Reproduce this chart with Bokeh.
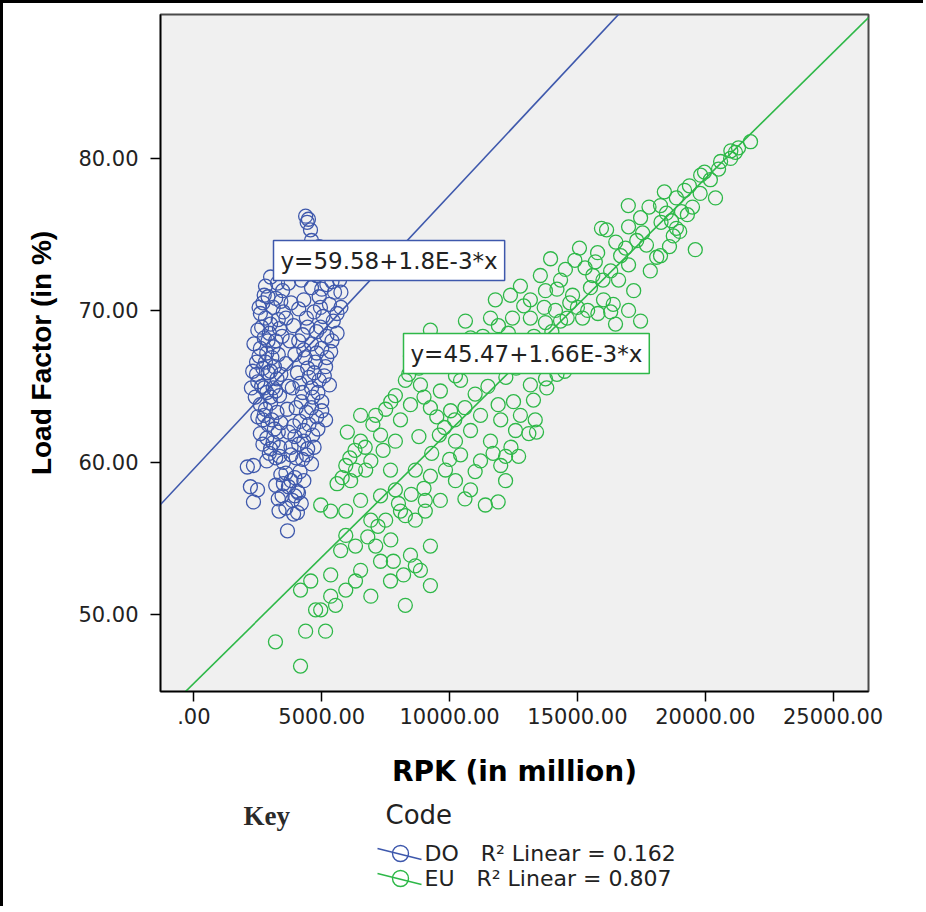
from bokeh.plotting import figure
from bokeh.layouts import column
from bokeh.models import Range1d, Label, FixedTicker
from bokeh.embed import file_html
from bokeh.resources import INLINE

# ---------------- data ----------------
do_x = [4370, 4480, 4430, 4560, 4600, 4150, 4500, 3800, 5100,
        3000, 3270, 3470, 2800,
        2700, 2900, 3100, 3400, 2600, 2800, 3000, 3300, 3500, 2500, 2750, 2950, 3200, 3450,
        2600, 2850, 3050, 3300, 2450, 2700, 2900, 3150, 3400, 2500, 2650, 2850, 3100, 3350,
        2400, 2600, 2800, 3000, 3250, 2700, 2900, 3150, 3400, 2600, 2850, 3100, 3350, 2950,
        3200, 3500, 2250, 2300, 2350,
        4900, 5300, 5600, 5100, 5450, 4800, 5700, 5200, 4600, 5500, 4900, 4300, 5300, 5750,
        4100, 4700, 5050, 5450, 3900, 4450, 4800, 5200, 5600, 4100, 4600, 5000, 5350, 3950,
        4350, 4750, 5150, 4050, 4500, 4900, 5300, 3850, 4250, 4650, 5000, 4000, 4400, 4800,
        5150, 3900, 4300, 4650, 4100, 4450, 3800, 4250, 4600,
        3600, 3950, 4300, 3700, 4050, 3450, 3850, 4200, 3600, 3900, 3330, 3660, 3200, 4090, 4050,
        2090, 2330, 2210, 2490, 2330,
        2550, 2750, 3200, 2650, 2900, 3100, 3350, 2550, 2800, 3000, 3250, 2450, 2750, 3000,
        3200, 2500, 2750, 3050, 3300, 2700, 3000, 3350, 2850,
        4200, 4550, 5000, 5400, 5750, 4400, 4950, 5600, 4250, 4950, 5400, 4300, 4800, 5200,
        4450, 4700, 5100, 4150, 4600, 4850, 4200, 4600, 5000, 4150, 4500, 4850, 3950, 4300,
        4700, 4000, 4400, 3800, 3700, 3650, 3700, 3600, 3750, 3600, 3800, 3700,
        3400, 3800, 4150, 3500, 3950, 3300]
do_y = [76.2, 76.0, 75.8, 75.3, 74.6, 73.8, 73.2, 73.0, 73.6,
        72.2, 71.8, 71.3, 71.6,
        70.5, 70.9, 70.2, 70.6, 69.8, 69.5, 69.1, 69.4, 69.9, 68.7, 68.2, 68.5, 68.0, 68.3,
        67.5, 67.2, 66.9, 67.1, 66.6, 66.2, 65.9, 66.3, 65.8, 65.3, 65.0, 64.6, 64.9, 64.4,
        64.3, 63.8, 63.5, 63.9, 63.3, 62.8, 62.5, 62.2, 62.6, 61.9, 61.6, 61.3, 61.0, 60.6,
        60.3, 60.0, 64.9, 66.0, 67.8,
        74.2, 73.8, 73.3, 72.9, 72.5, 72.3, 72.0, 71.7, 71.5, 71.2, 70.9, 70.7, 70.4, 70.2,
        70.1, 69.9, 69.6, 69.3, 69.0, 68.9, 68.6, 68.3, 68.5, 68.0, 67.8, 67.5, 67.3, 67.1,
        66.9, 66.6, 66.3, 65.9, 65.6, 65.4, 65.1, 64.9, 64.6, 64.3, 64.0, 63.6, 63.3, 63.0,
        62.8, 62.4, 62.1, 61.8, 61.2, 60.9, 60.5, 60.2, 59.9,
        59.3, 59.0, 58.8, 58.4, 58.1, 57.8, 57.5, 57.3, 57.0, 56.6, 56.8, 55.5, 58.5, 58.0, 56.7,
        59.7, 59.8, 58.4, 58.2, 57.4,
        70.2, 71.0, 70.8, 68.9, 68.0, 67.6, 68.8, 67.0, 66.6, 66.0, 65.5, 65.8, 64.9, 64.3,
        64.7, 63.0, 63.1, 62.8, 62.0, 61.2, 60.9, 60.4, 60.1,
        72.0, 72.8, 71.4, 71.9, 71.2, 69.5, 70.2, 69.8, 68.4, 68.9, 68.0, 67.4, 67.2, 66.9,
        66.2, 65.9, 65.7, 65.2, 64.9, 64.6, 64.0, 63.6, 63.4, 62.7, 62.5, 62.2, 61.7, 61.4,
        61.0, 60.3, 60.5, 61.0, 62.0, 63.5, 65.0, 66.5, 68.0, 69.5, 70.5, 71.8,
        59.2, 58.8, 59.4, 58.6, 57.8, 57.6]

eu_x = [21770, 21300, 21180, 20990, 20520, 19970, 19820, 20400, 19380, 19190, 18870, 19500,
        19070, 18480, 18680, 18250, 16990, 18270, 18870, 18750, 17470, 17550, 17320, 16880,
        16140, 15940, 15790, 16690, 16300, 16610, 17200, 16020, 15510, 15080, 14530, 14340,
        14810, 13950, 13550, 13750, 12770, 12380, 11790, 13160, 14140, 14340, 13750, 13160,
        12460, 11910, 11600, 10620, 10820, 12000, 12770, 13550, 12190, 11210, 11600, 10820,
        10230, 9250, 8470, 8270, 8860, 9640, 10430, 7880, 8470, 9250, 10040, 11210, 12000,
        12770, 13350, 12580, 11600, 10820, 10230, 11210, 12000, 12190, 10430, 9840, 9250,
        8660, 10230, 10820, 11400, 12190, 9640, 9050, 9050, 8660, 8270, 9250, 8470, 8660,
        8860, 9250, 8270, 7690, 7300, 7110, 6920, 6520, 5940, 4960, 5350, 6320, 5940, 6130,
        6720, 6920, 6520, 7300, 7110, 6520, 7880, 8080, 7690, 7880, 7300, 8080, 5940, 6320,
        5740, 5350, 6320, 6920, 6520, 5940, 5350, 4960, 5540, 4570, 4170, 4760, 5150, 4370,
        3190, 4170,
        13280, 13160, 13750, 14500, 16300, 17470, 16490, 15400, 17850, 18250, 19610,
        6000, 6300, 6700, 7000, 7500, 7700, 7400, 5800, 6100, 5600,
        8400, 8800, 9000, 9500, 9800, 8800, 9300, 9600, 10200, 10600, 10000, 9000, 8500,
        8000, 7500, 7200, 7700, 7800, 8200, 6800,
        11000, 11500, 12200, 12600, 13000, 11800, 12300, 13300, 14000, 14600, 15000, 13700,
        12900, 11300, 10300, 9800, 10100, 12500, 11900, 13800, 14200, 14800, 13100, 12400,
        11700, 11000, 10600, 11900, 12700, 13400,
        15300, 15700, 16000, 16500, 17000, 17700, 18100, 18600, 19000, 19300, 17800, 18400,
        19800, 20200, 20600, 21000, 17000, 15600, 14900, 14200, 14700,
        15200, 15800, 16400, 17000]
eu_y = [81.1, 80.7, 80.4, 80.0, 79.3, 79.1, 78.9, 77.4, 78.2, 77.9, 77.4, 76.8,
        76.5, 76.4, 75.9, 76.9, 76.9, 75.8, 75.4, 74.9, 76.1, 75.1, 74.6, 74.1,
        75.3, 75.4, 73.8, 73.6, 72.6, 72.0, 71.3, 70.7, 71.5, 74.1, 72.7, 72.0,
        71.0, 73.4, 72.3, 71.3, 71.6, 71.0, 70.7, 70.7, 70.0, 69.3, 69.2, 69.5,
        69.5, 69.0, 69.5, 69.3, 68.2, 68.0, 67.7, 67.4, 67.4, 67.0, 66.4, 66.4,
        65.7, 68.7, 67.0, 65.4, 65.1, 64.7, 65.4, 64.4, 63.8, 63.6, 63.4, 63.1, 62.8,
        63.1, 62.8, 62.1, 61.4, 62.1, 61.4, 60.1, 59.8, 60.4, 60.5, 59.5, 59.1,
        59.5, 58.8, 58.2, 57.2, 58.8, 57.5, 57.5, 56.8, 56.2, 56.5, 54.5, 53.9, 53.2,
        52.9, 51.9, 50.6, 52.2, 53.5, 54.5, 56.2, 57.5, 56.8, 57.2, 56.8, 59.5, 59.8, 58.8,
        59.5, 60.1, 61.4, 61.8, 63.1, 63.1, 61.4, 62.8, 59.5, 58.2, 57.8, 56.8, 55.2, 54.5,
        54.2, 52.6, 52.2, 51.2, 52.9, 51.6, 51.2, 50.3, 50.6, 52.2, 51.6, 50.3, 48.9, 48.9,
        48.2, 46.6,
        64.1, 65.1, 65.5, 66.0, 69.9, 69.3, 69.1, 70.0, 72.6, 73.6, 74.0,
        62.0, 60.8, 61.0, 62.5, 63.5, 64.0, 60.8, 59.0, 60.3, 58.6,
        65.8, 66.2, 64.3, 63.0, 62.3, 61.7, 60.6, 61.8, 62.8, 63.6, 60.2, 58.3, 57.9,
        57.3, 56.2, 55.8, 54.9, 53.5, 52.6, 55.1,
        64.5, 65.0, 65.6, 66.2, 66.8, 67.7, 68.5, 68.3, 68.6, 69.5, 70.2, 70.2,
        70.3, 68.3, 67.8, 67.0, 66.6, 64.0, 63.8, 64.9, 65.8, 67.1, 61.9, 61.0,
        60.6, 59.4, 57.6, 57.4, 60.4, 62.0,
        72.8, 73.2, 72.0, 74.5, 75.5, 74.3, 73.5, 74.2, 75.2, 76.3, 76.8, 77.8,
        77.7, 78.6, 79.8, 80.5, 73.0, 72.3, 73.3, 71.4, 70.5,
        69.5, 69.8, 70.4, 70.0]

series_names = ["DO", "EU"]
series_colors = ["#3E58AC", "#2EB848"]
intercepts = [59.58, 45.47]
slopes = [1.8e-3, 1.66e-3]
r_squared = [0.162, 0.807]

x_ticks = [0, 5000, 10000, 15000, 20000, 25000]
x_tick_labels = [".00", "5000.00", "10000.00", "15000.00", "20000.00", "25000.00"]
y_ticks = [50, 60, 70, 80]
y_tick_labels = ["50.00", "60.00", "70.00", "80.00"]

x_title = "RPK (in million)"
y_title = "Load Factor (in %)"
key_title = "Key"
legend_title = "Code"

# ---------------- main figure ----------------
X0, X1 = -1306, 26384
Y0, Y1 = 44.93, 89.47

p = figure(frame_width=708, frame_height=677,
           x_range=Range1d(X0, X1), y_range=Range1d(Y0, Y1),
           output_backend="svg", toolbar_location=None,
           min_border_left=157, min_border_right=55,
           min_border_top=11, min_border_bottom=109)
p.background_fill_color = "#F0F0F0"
p.border_fill_color = "white"
p.outline_line_color = "#4a4a4a"
p.outline_line_width = 2
p.xgrid.visible = False
p.ygrid.visible = False

for ax in (p.xaxis[0], p.yaxis[0]):
    ax.axis_line_color = "black"
    ax.axis_line_width = 1.5
    ax.major_tick_line_color = "black"
    ax.major_tick_line_width = 1.5
    ax.major_tick_out = 10
    ax.major_tick_in = 0
    ax.minor_tick_line_color = None
    ax.major_label_text_font = "DejaVu Sans"
    ax.major_label_text_font_size = "21px"
    ax.major_label_text_color = "#222222"
    ax.axis_label_text_color = "black"
    ax.axis_label_text_font_style = "bold"

p.xaxis.ticker = FixedTicker(ticks=x_ticks)
p.xaxis.major_label_overrides = {t: l for t, l in zip(x_ticks, x_tick_labels)}
p.xaxis.major_label_standoff = 6
p.xaxis.axis_label = x_title
p.xaxis.axis_label_text_font = "DejaVu Sans"
p.xaxis.axis_label_text_font_size = "28px"
p.xaxis.axis_label_standoff = 28

p.yaxis.ticker = FixedTicker(ticks=y_ticks)
p.yaxis.major_label_overrides = {t: l for t, l in zip(y_ticks, y_tick_labels)}
p.yaxis.major_label_standoff = 12
p.yaxis.axis_label = y_title
p.yaxis.axis_label_text_font = "Liberation Sans"
p.yaxis.axis_label_text_font_size = "28px"
p.yaxis.axis_label_standoff = 18

xs_all = [do_x, eu_x]
ys_all = [do_y, eu_y]
for col, xs, ys in zip(series_colors, xs_all, ys_all):
    p.scatter(xs, ys, marker="circle", size=14, fill_alpha=0,
              line_color=col, line_width=1.3)

for col, b, m in zip(series_colors, intercepts, slopes):
    p.line([X0, X1], [b + m * X0, b + m * X1], line_color=col, line_width=1.6)

# equation boxes (screen offsets from the frame's bottom-left)
eq_pos = [(113, 451), (243, 358)]
for (sx, sy), col, b, m in zip(eq_pos, series_colors, intercepts, slopes):
    txt = f"y={b:.2f}+{m * 1000:g}E-3*x"
    p.add_layout(Label(x=sx, y=sy, x_units="screen", y_units="screen", text=txt,
                       text_align="left", text_baseline="top",
                       text_font="DejaVu Sans", text_font_size="23px", text_color="#222222",
                       padding=7, background_fill_color="white",
                       border_line_color=col, border_line_width=1.5))

# ---------------- key panel below (page-pixel coordinates; frame aligns with main frame) ----------------
k = figure(width=920, height=106, x_range=Range1d(160, 868), y_range=Range1d(906, 800),
           output_backend="svg", toolbar_location=None,
           x_axis_location=None, y_axis_location=None,
           min_border_left=0, min_border_right=0, min_border_top=0, min_border_bottom=0)
k.outline_line_color = None
k.background_fill_color = "white"
k.border_fill_color = "white"
k.xgrid.visible = False
k.ygrid.visible = False

k.add_layout(Label(x=243, y=815, text=key_title, text_align="left", text_baseline="middle",
                   text_font="Liberation Serif", text_font_size="27px", text_font_style="bold",
                   text_color="#2a2a2a"))
k.add_layout(Label(x=385, y=814, text=legend_title, text_align="left", text_baseline="middle",
                   text_font="DejaVu Sans", text_font_size="26px", text_color="#222222"))

row_y = [853, 878]
for ry, name, col, r2 in zip(row_y, series_names, series_colors, r_squared):
    k.line([377, 421], [ry - 5, ry + 6], line_color=col, line_width=1.5)
    k.scatter([400], [ry], marker="circle", size=16, fill_alpha=0, line_color=col, line_width=1.4)
    k.add_layout(Label(x=424, y=ry, text=f"{name}\u2003R\u00b2 Linear = {r2:.3f}",
                       text_align="left", text_baseline="middle",
                       text_font="DejaVu Sans", text_font_size="22px", text_color="#222222"))

layout = column(p, k, spacing=0)
layout.styles = {"border-top": "3px solid black", "border-left": "3px solid black"}

open("out.html", "w").write(file_html(layout, INLINE))
